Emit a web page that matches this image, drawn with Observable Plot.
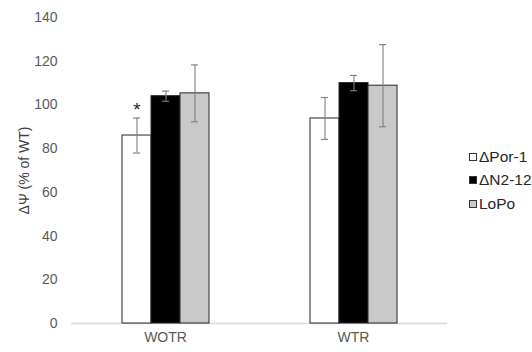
<!DOCTYPE html>
<html>
<head>
<meta charset="utf-8">
<script src="https://cdn.jsdelivr.net/npm/d3@7"></script>
<script src="https://cdn.jsdelivr.net/npm/@observablehq/plot@0.6"></script>
<style>
  body { margin: 0; background: #fff; }
  #wrap { position: relative; width: 532px; height: 352px; font-family: "Liberation Sans", Arial, sans-serif; }
  #legend { position: absolute; left: 469px; top: 145px; }
  .item { display: flex; align-items: center; height: 23.5px; font-size: 15.5px; color: #262626; }
  .sw { width: 6px; height: 6px; border: 1px solid #333; margin-right: 2px; }
</style>
</head>
<body>
<div id="wrap"></div>
<script>
const groups = ["WOTR", "WTR"];
const series = ["ΔPor-1", "ΔN2-12", "LoPo"];
const wotrMeans = [86, 104, 105.3];
const wotrErrors = [8, 2.3, 13];
const wtrMeans = [93.8, 110, 108.8];
const wtrErrors = [9.6, 3.5, 18.8];
const wotrMarks = ["*", "", ""];
const wtrMarks = ["", "", ""];
const yTicks = [0, 20, 40, 60, 80, 100, 120, 140];
const yLabel = "ΔΨ (% of WT)";
const fills = ["#ffffff", "#000000", "#c9c9c9"];

const rows = [];
[[groups[0], wotrMeans, wotrErrors, wotrMarks], [groups[1], wtrMeans, wtrErrors, wtrMarks]].forEach(([g, m, e, s]) => {
  series.forEach((name, i) => rows.push({group: g, series: name, value: m[i], lo: m[i] - e[i], hi: m[i] + e[i], sig: s[i]}));
});

const chart = Plot.plot({
  width: 532,
  height: 352,
  marginLeft: 71,
  marginRight: 85,
  marginTop: 17,
  marginBottom: 29,
  style: {fontFamily: "'Liberation Sans', Arial, sans-serif", fontSize: "14px", color: "#595959", background: "#fff"},
  facet: {data: rows, x: "group"},
  fx: {domain: groups, padding: 0, axis: "bottom", tickSize: 0, tickPadding: 9, label: null},
  x: {domain: series, paddingInner: 0, paddingOuter: 1.69, axis: null},
  y: {domain: [0, 140], ticks: yTicks, tickSize: 0, tickPadding: 14, label: yLabel, labelAnchor: "center", labelOffset: 52},
  color: {domain: series, range: fills},
  marks: [
    Plot.ruleY([0], {stroke: "#d9d9d9", strokeWidth: 1.5}),
    Plot.barY(rows, {x: "series", y: "value", fill: "series", stroke: "#262626", strokeWidth: 1}),
    Plot.ruleX(rows, {x: "series", y1: "lo", y2: "hi", stroke: "#7f7f7f", strokeWidth: 1.1}),
    Plot.tickY(rows, {x: "series", y: "hi", stroke: "#7f7f7f", strokeWidth: 1.1, insetLeft: 11, insetRight: 11}),
    Plot.tickY(rows, {x: "series", y: "lo", stroke: "#7f7f7f", strokeWidth: 1.1, insetLeft: 11, insetRight: 11}),
    Plot.text(rows, {x: "series", y: "hi", text: "sig", fontSize: 19, fill: "#262626", lineAnchor: "bottom", dy: -2})
  ]
});
document.getElementById("wrap").appendChild(chart);
chart.querySelectorAll("[aria-label='y-axis label'] text").forEach(el => { el.textContent = yLabel; el.setAttribute("fill", "#404040"); });

const legend = document.createElement("div");
legend.id = "legend";
series.forEach((name, i) => {
  const item = document.createElement("div");
  item.className = "item";
  const sw = document.createElement("span");
  sw.className = "sw";
  sw.style.background = fills[i];
  item.appendChild(sw);
  item.appendChild(document.createTextNode(name));
  legend.appendChild(item);
});
document.getElementById("wrap").appendChild(legend);
</script>
</body>
</html>
